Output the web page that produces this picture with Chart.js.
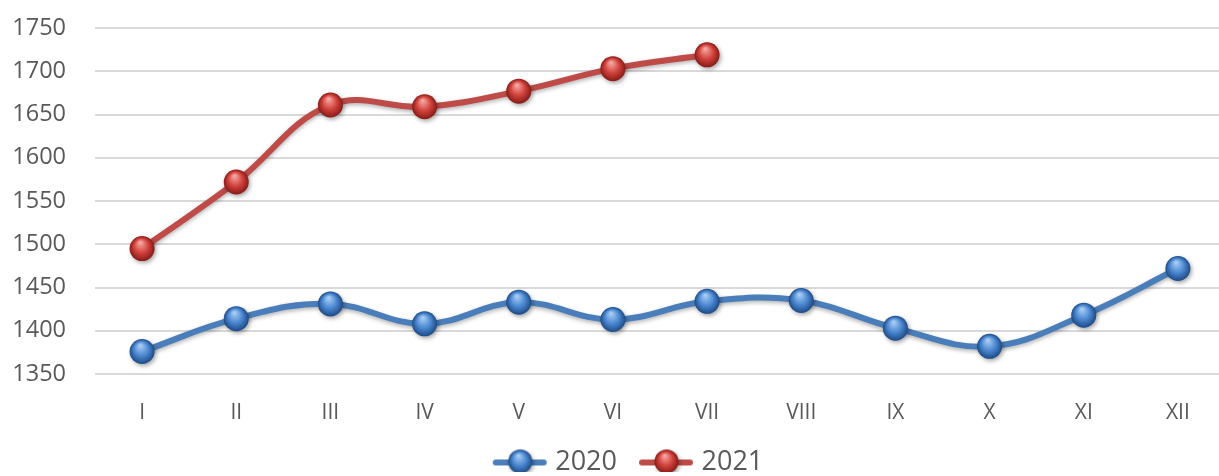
<!DOCTYPE html>
<html>
<head>
<meta charset="utf-8">
<script src="https://cdn.jsdelivr.net/npm/chart.js@4.4.1/dist/chart.umd.min.js"></script>
<style>
  html, body { margin: 0; padding: 0; background: #fff; overflow: hidden; }
  #wrap { position: relative; width: 1225px; height: 476px; }
</style>
</head>
<body>
<div id="wrap"><canvas id="chart"></canvas></div>
<script>
// months (roman numerals) on the x axis
const months = ['I', 'II', 'III', 'IV', 'V', 'VI', 'VII', 'VIII', 'IX', 'X', 'XI', 'XII'];
// values
const values2020 = [1376, 1414, 1431, 1408, 1433, 1413, 1434, 1435, 1403, 1382, 1418, 1472];
const values2021 = [1495, 1572, 1661, 1659, 1677, 1703, 1719, null, null, null, null, null];
// y axis range
const yMin = 1350;
const yMax = 1750;
const yStep = 50;

const blue = { line: '#4a7ebb', light: '#a9cdf5', mid: '#4b88d1', dark: '#1d4a86' };
const red  = { line: '#be4b48', light: '#f6a8a3', mid: '#d2423c', dark: '#861b17' };

function drawSphere(ctx, x, y, r, c) {
  ctx.save();
  ctx.shadowColor = 'rgba(0,0,0,0.35)';
  ctx.shadowBlur = 4;
  ctx.shadowOffsetX = 1.5;
  ctx.shadowOffsetY = 2;
  var g = ctx.createRadialGradient(x - r * 0.15, y - r * 0.5, r * 0.05, x, y, r);
  g.addColorStop(0, c.light);
  g.addColorStop(0.55, c.mid);
  g.addColorStop(1, c.dark);
  ctx.fillStyle = g;
  ctx.beginPath();
  ctx.arc(x, y, r, 0, Math.PI * 2);
  ctx.fill();
  ctx.restore();
}

// legend picture: line with a ball on it
function legendIcon(c) {
  var cv = document.createElement('canvas');
  cv.width = 58; cv.height = 30;
  var ctx = cv.getContext('2d');
  ctx.strokeStyle = c.line;
  ctx.lineWidth = 6;
  ctx.lineCap = 'round';
  ctx.beginPath();
  ctx.moveTo(6, 15); ctx.lineTo(54, 15);
  ctx.stroke();
  drawSphere(ctx, 30.5, 14, 12, c);
  return cv;
}

const spherePlugin = {
  id: 'spheres',
  afterLayout(chart) {
    // nudge the legend row to where it sits in the picture
    chart.legend.left += 11;
    chart.legend.right += 11;
  },
  beforeDatasetDraw(chart) {
    var ctx = chart.ctx;
    ctx.save();
    ctx.shadowColor = 'rgba(0,0,0,0.3)';
    ctx.shadowBlur = 4;
    ctx.shadowOffsetY = 2;
  },
  afterDatasetDraw(chart) {
    chart.ctx.restore();
  },
  afterDatasetsDraw(chart) {
    var ctx = chart.ctx;
    chart.data.datasets.forEach(function(ds, i) {
      var meta = chart.getDatasetMeta(i);
      meta.data.forEach(function(pt) {
        if (pt.skip) return;
        drawSphere(ctx, pt.x, pt.y, 12.5, ds.colors);
      });
    });
  }
};

const font = 'Open Sans';

new Chart(document.getElementById('chart'), {
  type: 'line',
  data: {
    labels: months,
    datasets: [
      {
        label: '2020',
        data: values2020,
        colors: blue,
        borderColor: blue.line,
        borderWidth: 6,
        tension: 0.4,
        pointRadius: 0,
        pointStyle: legendIcon(blue)
      },
      {
        label: '2021',
        data: values2021,
        colors: red,
        borderColor: red.line,
        borderWidth: 6,
        tension: 0.4,
        pointRadius: 0,
        pointStyle: legendIcon(red)
      }
    ]
  },
  options: {
    responsive: true,
    maintainAspectRatio: false,
    animation: false,
    events: [],
    layout: { padding: { left: 12, top: 0, right: 0, bottom: 4 } },
    plugins: {
      tooltip: { enabled: false },
      legend: {
        position: 'bottom',
        maxHeight: 48,
        labels: {
          usePointStyle: true,
          pointStyleWidth: 46,
          padding: 25,
          color: '#595959',
          font: { family: font, size: 27 }
        }
      }
    },
    scales: {
      x: {
        offset: true,
        grid: { display: false },
        border: { display: false },
        ticks: { color: '#595959', font: { family: font, size: 21 }, padding: 18 },
        afterFit: function(scale) { scale.height = 50; }
      },
      y: {
        min: yMin,
        max: yMax,
        border: { display: false },
        grid: { color: '#d9d9d9', lineWidth: 2, drawTicks: false },
        ticks: {
          stepSize: yStep,
          color: '#595959',
          font: { family: font, size: 23.5 },
          padding: 29,
          callback: function(v) { return String(v); }
        },
        afterFit: function(scale) {
          scale.width = 83;
          scale.paddingTop = 28;
        }
      }
    }
  },
  plugins: [spherePlugin]
});
</script>
</body>
</html>
